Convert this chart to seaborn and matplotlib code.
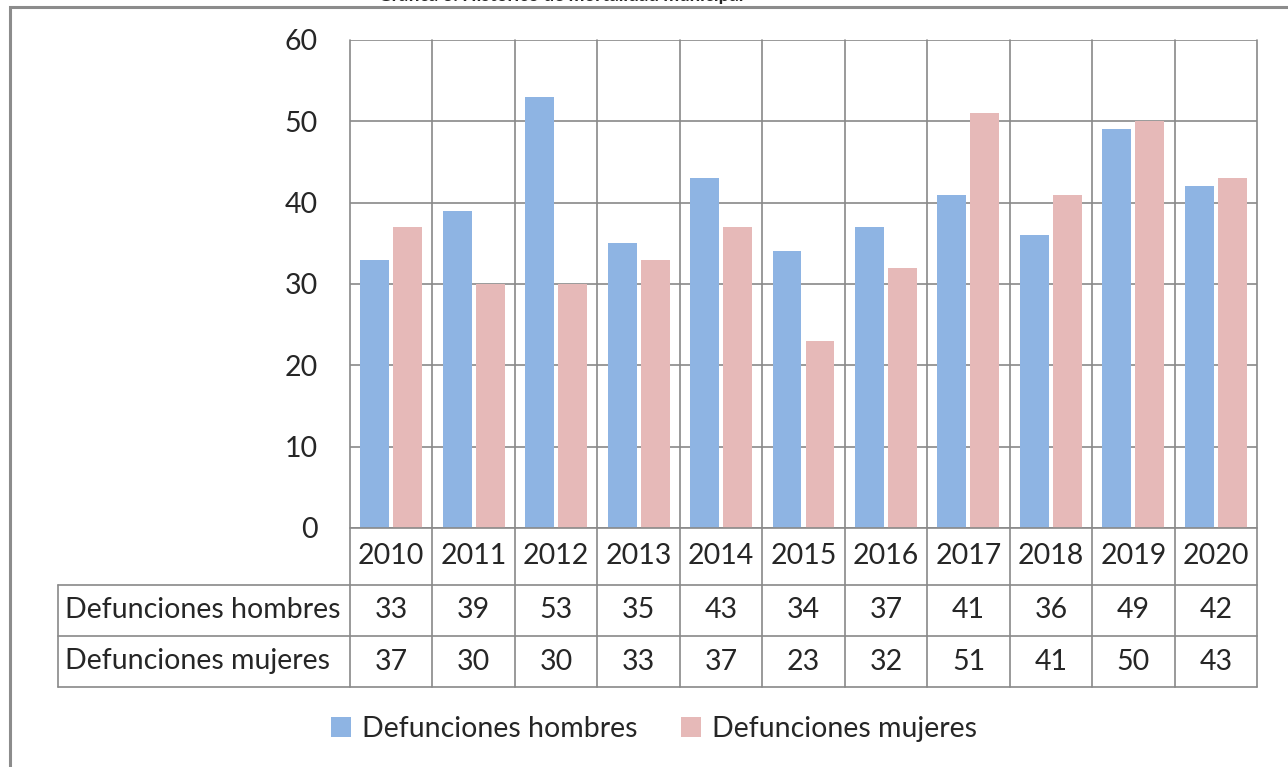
import matplotlib
matplotlib.use("Agg")
import matplotlib.pyplot as plt
import seaborn as sns
import pandas as pd
from matplotlib.patches import Patch, Rectangle

anos = ['2010', '2011', '2012', '2013', '2014', '2015', '2016', '2017', '2018', '2019', '2020']
hombres = [33, 39, 53, 35, 43, 34, 37, 41, 36, 49, 42]
mujeres = [37, 30, 30, 33, 37, 23, 32, 51, 41, 50, 43]
series = ['Defunciones hombres', 'Defunciones mujeres']
colores = ['#8EB4E3', '#E6B9B8']
titulo = 'Gráfica 3. Histórico de mortalidad municipal'

df = pd.DataFrame({
    'ano': anos * 2,
    'valor': hombres + mujeres,
    'serie': [series[0]] * len(anos) + [series[1]] * len(anos),
})

sns.set_style('white')
plt.rcParams['font.family'] = ['Lato', 'DejaVu Sans']
gris = '#898989'
fs = 20.5

fig = plt.figure(figsize=(12.88, 7.67), dpi=100)
ax = fig.add_axes([350 / 1288, 1 - 528 / 767, 907 / 1288, 488 / 767])

sns.barplot(data=df, x='ano', y='valor', hue='serie', palette=colores,
            width=0.8, gap=0.125, saturation=1, linewidth=0, ax=ax, legend=False)

ax.set_ylim(0, 60)
ax.set_xlim(-0.5, len(anos) - 0.5)
ax.set_yticks(range(0, 61, 10))
ax.tick_params(axis='y', length=0, pad=23, labelsize=fs)
ax.set_xticks([])
ax.set_xlabel('')
ax.set_ylabel('')
for s in ax.spines.values():
    s.set_visible(False)
ax.yaxis.grid(True, color=gris, lw=1.2)
ax.set_axisbelow(True)

# tabla de datos bajo el grafico
tr = ax.get_xaxis_transform()
n = len(anos)
x_lab = -0.5 - (350 - 58) / (907 / n)
y_filas = [0, -57 / 488, -108 / 488, -159 / 488]
kw = dict(color=gris, lw=1.2, transform=tr, clip_on=False)
ax.plot([-0.5, -0.5], [1, y_filas[3]], **kw)
for i in range(n):
    ax.plot([i + 0.5, i + 0.5], [1, y_filas[3]], **kw)
ax.plot([x_lab, x_lab], [y_filas[1], y_filas[3]], **kw)
ax.plot([-0.5, n - 0.5], [y_filas[0], y_filas[0]], **kw)
for yf in y_filas[1:]:
    ax.plot([x_lab, n - 0.5], [yf, yf], **kw)

centros = [(y_filas[k] + y_filas[k + 1]) / 2 for k in range(3)]
for i, a in enumerate(anos):
    ax.text(i, centros[0], a, ha='center', va='center', fontsize=fs, transform=tr)
    ax.text(i, centros[1], str(hombres[i]), ha='center', va='center', fontsize=fs, transform=tr)
    ax.text(i, centros[2], str(mujeres[i]), ha='center', va='center', fontsize=fs, transform=tr)
ax.text(x_lab + 0.08, centros[1], series[0], ha='left', va='center', fontsize=fs, transform=tr)
ax.text(x_lab + 0.08, centros[2], series[1], ha='left', va='center', fontsize=fs, transform=tr)

# leyenda
handles = [Patch(facecolor=c, edgecolor='none') for c in colores]
fig.legend(handles, series, loc='center', bbox_to_anchor=(654 / 1288, 1 - 729 / 767),
           ncol=2, frameon=False, fontsize=fs, handlelength=0.7, handleheight=0.7,
           handletextpad=0.4, columnspacing=1.5)

# marco exterior y titulo recortado
fig.patches.append(Rectangle((10 / 1288, -0.1), 1.2, 1.1 - 7 / 767, transform=fig.transFigure,
                             fill=False, edgecolor='#8C8C8C', lw=2.2))
fig.text(561 / 1288, 1 - 1 / 767, titulo, ha='center', va='baseline', fontsize=13.5,
         fontweight='bold')

fig.savefig('out.png', dpi=100)
